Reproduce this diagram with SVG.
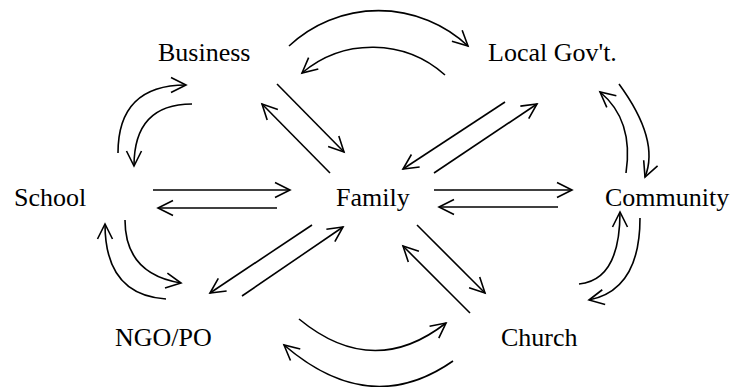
<svg xmlns="http://www.w3.org/2000/svg" width="734" height="387" viewBox="0 0 734 387">
<style>
  text { font-family: "Liberation Serif", "Times New Roman", serif; font-size: 26px; fill: #000; }
  .c { fill: none; stroke: #000; stroke-width: 1.6; marker-end: url(#ah); }
</style>
<defs>
  <marker id="ah" markerUnits="userSpaceOnUse" markerWidth="20" markerHeight="20" viewBox="-16 -10 18 20" refX="0" refY="0" orient="auto" overflow="visible">
    <path d="M-15,-7.5 L0,0 L-15,7.5" fill="none" stroke="#000" stroke-width="1.6"/>
  </marker>
</defs>
<rect width="734" height="387" fill="#fff"/>
<g id="nodes">
  <g id="business"><text x="158" y="61">Business</text></g>
  <g id="localgov"><text x="488" y="61">Local Gov't.</text></g>
  <g id="school"><text x="14" y="206">School</text></g>
  <g id="family"><text x="336" y="206">Family</text></g>
  <g id="community"><text x="605" y="206">Community</text></g>
  <g id="ngo"><text x="115" y="346">NGO/PO</text></g>
  <g id="church"><text x="501" y="346">Church</text></g>
</g>
<g id="connectors">
  <path class="c" d="M289,46 A131,131 0 0 1 468,46"/>
  <path class="c" d="M445,75 A109,109 0 0 0 302,73"/>
  <path class="c" d="M118,153 Q118,85 186,85"/>
  <path class="c" d="M192,104 Q134,104 134,166"/>
  <path class="c" d="M125,220 Q125,274 181,283"/>
  <path class="c" d="M166,299 Q105,295 105,224"/>
  <path class="c" d="M299,319 Q373,380 446,323"/>
  <path class="c" d="M453,361 Q370,419 284,345"/>
  <path class="c" d="M579,284 Q620,280 620,212"/>
  <path class="c" d="M640,218 Q640,290 589,300"/>
  <path class="c" d="M619,84 Q660,140 645,177"/>
  <path class="c" d="M626,173 Q634,120 600,92"/>
  <path class="c" d="M277,84 L344,152"/>
  <path class="c" d="M330,173 L262,104"/>
  <path class="c" d="M153,190 L290,190"/>
  <path class="c" d="M277,208 L158,208"/>
  <path class="c" d="M312,225 L210,293"/>
  <path class="c" d="M242,296 L343,227"/>
  <path class="c" d="M505,102 L403,169"/>
  <path class="c" d="M434,173 L537,104"/>
  <path class="c" d="M434,190 L572,190"/>
  <path class="c" d="M558,207 L439,207"/>
  <path class="c" d="M417,225 L485,293"/>
  <path class="c" d="M470,313 L403,246"/>
</g>
</svg>
